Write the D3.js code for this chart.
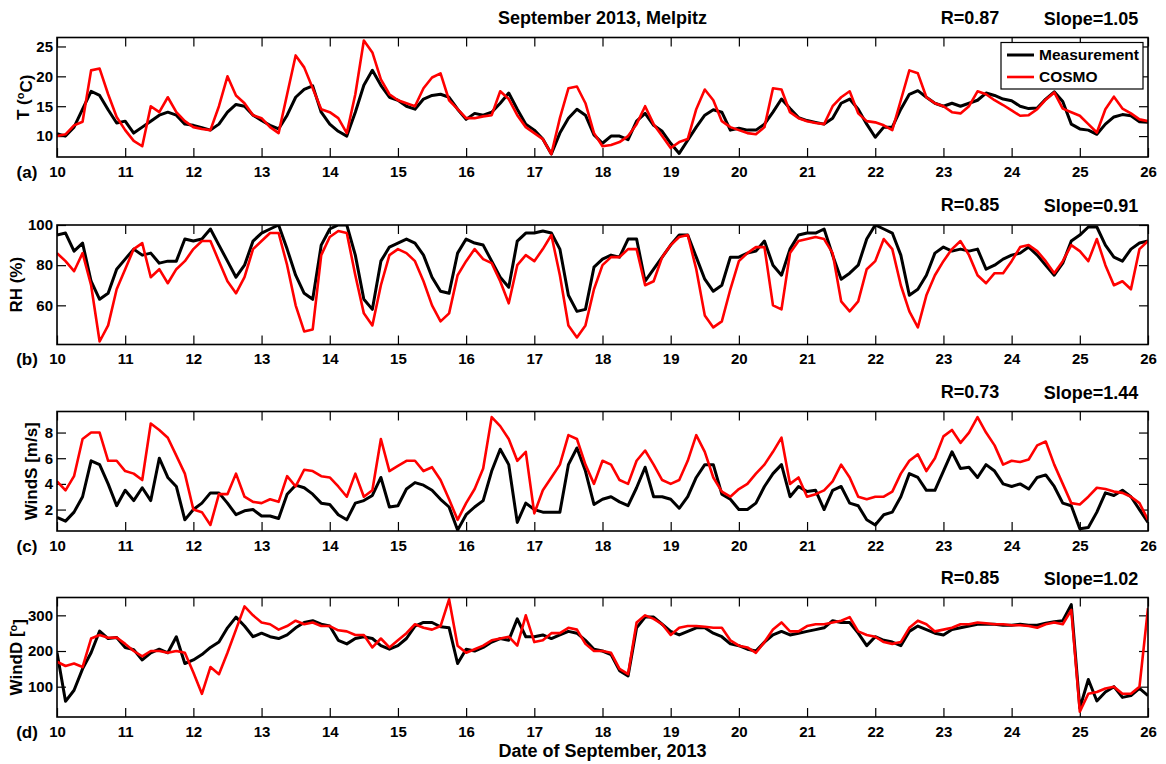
<!DOCTYPE html>
<html>
<head>
<meta charset="utf-8">
<script src="https://cdn.jsdelivr.net/npm/d3@7"></script>
<style>
  body { margin: 0; background: #fff; }
  text { font-family: Arial, "Liberation Sans", sans-serif; font-weight: bold; fill: #000; }
  .tick line { stroke: #000; stroke-width: 1.2; }
  .tick text { font-size: 15px; }
</style>
</head>
<body>
<div id="plot-container"></div>
<script>
// sampling grid (3-hourly) and day ticks
var days = d3.range(10, 26.001, 0.125);
var dayTicks = d3.range(10, 27);

// (a) temperature [deg C]
var tMeas = [
  10.4, 10.0, 11.5, 14.5, 17.5, 16.8, 14.4, 12.2,
  12.5, 10.5, 11.5, 12.5, 13.5, 14.0, 13.5, 12.0,
  11.8, 11.4, 11.0, 12.0, 14.0, 15.3, 15.0, 13.5,
  12.6, 11.8, 11.2, 13.5, 16.5, 17.8, 18.4, 14.0,
  12.0, 10.8, 10.0, 14.0, 18.5, 21.0, 18.5, 16.5,
  16.0, 15.0, 14.5, 16.2, 16.8, 17.0, 16.5, 14.5,
  12.8, 13.8, 13.5, 14.0, 15.5, 17.2, 14.5, 12.0,
  11.0, 9.5, 7.0, 10.5, 13.0, 14.5, 13.5, 10.2,
  8.8, 10.0, 10.0, 9.4, 12.5, 13.8, 11.8, 10.8,
  8.8, 7.1, 9.3, 11.5, 13.5, 14.4, 14.0, 11.0,
  11.3, 11.0, 11.0, 12.0, 14.0, 16.2, 14.6, 13.1,
  12.6, 12.3, 12.0, 13.0, 15.5, 16.2, 14.5, 12.0,
  9.8, 11.5, 11.5, 14.5, 17.0, 17.6, 16.5, 15.5,
  15.0, 15.5, 15.0, 15.5, 16.0, 17.2, 16.8, 16.2,
  15.9, 15.0, 14.6, 14.7, 16.2, 17.4, 15.8, 12.0,
  11.2, 11.0, 10.3, 12.0, 13.2, 13.6, 13.4, 12.4,
  12.3
];
var tCosmo = [
  10.0, 10.3, 11.8, 12.4, 21.0, 21.3, 17.0, 13.2,
  11.0, 9.2, 8.3, 15.0, 14.0, 16.5, 14.0, 12.5,
  11.5, 11.2, 11.0, 15.0, 20.0, 16.8, 15.5, 13.5,
  13.0, 11.5, 10.5, 17.0, 23.5, 21.5, 18.0, 14.5,
  14.0, 13.0, 10.5, 17.0, 26.0, 24.0, 19.5, 17.0,
  16.0, 15.5, 15.0, 18.0, 19.8, 20.5, 16.0, 14.5,
  13.0, 13.0, 13.3, 13.5, 17.5, 16.2, 13.5, 11.5,
  10.5, 9.5, 7.0, 13.0, 18.0, 18.3, 15.5, 10.5,
  8.3, 8.5, 9.0, 10.0, 12.0, 15.0, 12.0, 10.0,
  8.0, 9.0, 9.5, 14.5, 17.8, 16.0, 12.5, 11.5,
  11.0, 10.5, 10.3, 11.5, 18.0, 17.8, 14.0, 13.0,
  12.5, 12.2, 12.0, 15.0, 16.5, 17.5, 13.8, 12.5,
  12.3, 11.8, 11.0, 16.0, 21.0, 20.5, 16.5, 15.5,
  15.0, 14.0, 13.8, 15.0, 17.5, 17.0, 16.0, 15.2,
  14.3, 13.4, 13.5, 14.5, 16.1, 17.3, 14.6, 14.0,
  13.4, 12.0, 10.6, 14.5, 16.6, 14.6, 13.8, 12.8,
  12.5
];

// (b) relative humidity [%]
var rhMeas = [
  95, 96, 87, 91, 72, 63, 66, 78,
  83, 88, 85, 86, 81, 82, 82, 93,
  92, 93, 98, 90, 82, 74, 80, 92,
  96, 98, 100, 88, 75, 66, 63, 90,
  98, 100, 100, 85, 63, 58, 82, 89,
  91, 93, 91, 85, 74, 67, 66, 86,
  93, 91, 90, 82, 74, 69, 92, 96,
  96, 97, 96, 88, 65, 57, 58, 79,
  83, 85, 84, 93, 93, 72, 78, 84,
  90, 95, 95, 84, 73, 67, 70, 84,
  84, 86, 87, 92, 80, 75, 88, 95,
  96, 96, 98, 85, 73, 76, 80, 93,
  100, 98, 96, 85, 65, 68, 75, 86,
  89, 87, 88, 87, 88, 78, 80, 83,
  85, 86, 89, 85, 80, 75, 81, 92,
  95, 99, 99, 90, 84, 82, 88, 91,
  92
];
var rhCosmo = [
  86, 82, 77, 86, 70, 42, 50, 68,
  78, 88, 91, 74, 78, 71, 78, 82,
  88, 92, 92, 82, 72, 66, 74, 88,
  92, 96, 96, 80, 60, 47, 48, 85,
  94, 97, 96, 75, 56, 50, 70, 85,
  88, 86, 82, 72, 60, 52, 56, 75,
  82, 88, 83, 81, 72, 61, 80, 85,
  82, 88, 95, 75, 50, 44, 50, 68,
  80, 84, 84, 88, 88, 70, 72, 84,
  90, 94, 95, 78, 55, 49, 52, 68,
  82, 86, 89, 89, 60, 58, 86, 92,
  93, 94, 93, 86, 62, 57, 62, 78,
  82, 93, 88, 70, 57, 49, 65, 75,
  82, 88, 92, 85, 75, 71, 76, 76,
  82, 89, 90, 87, 82, 76, 82, 90,
  87, 82, 93, 80, 70, 72, 68, 88,
  92
];

// (c) wind speed [m/s]
var wsMeas = [
  1.4, 1.1, 1.8, 3.0, 5.8, 5.5, 4.0, 2.3,
  3.5, 2.7, 3.7, 2.7, 6.0, 4.5, 3.8, 1.2,
  2.0, 2.5, 3.3, 3.3, 2.5, 1.6, 1.9, 2.0,
  1.5, 1.5, 1.3, 3.2, 3.9, 3.7, 3.2, 2.5,
  2.4, 1.6, 1.2, 2.5, 2.7, 3.1, 4.5, 2.2,
  2.3, 3.6, 4.1, 3.9, 3.5, 2.8, 2.2, 0.4,
  1.6, 2.2, 2.7, 5.0, 6.7, 5.5, 1.0, 2.5,
  2.0, 1.8, 1.8, 1.8, 5.5, 6.8, 5.0, 2.4,
  2.8, 3.0, 2.6, 2.3, 3.7, 5.3, 3.0, 3.0,
  2.8, 2.1, 3.0, 4.5, 5.5, 5.5, 3.2, 2.8,
  2.0, 2.0, 2.5, 3.8, 4.8, 5.5, 3.0, 3.8,
  3.4, 3.5, 2.0, 3.5, 3.8, 2.5, 2.3, 1.2,
  0.8, 1.6, 1.8, 3.0, 4.8, 4.5, 3.5, 3.5,
  5.0, 6.5, 5.2, 5.3, 4.5, 5.5, 5.0, 4.0,
  3.8, 4.0, 3.6, 4.5, 4.7, 3.8, 2.5, 2.3,
  0.5, 0.6, 1.8, 3.3, 3.1, 3.5, 3.0, 2.0,
  1.0
];
var wsCosmo = [
  4.2, 3.5, 4.6, 7.5, 8.0, 8.0, 5.8, 5.8,
  5.0, 4.8, 4.3, 8.7, 8.2, 7.6, 6.2, 4.8,
  2.0, 1.8, 0.8, 3.2, 3.2, 4.8, 3.0, 2.6,
  2.5, 2.8, 2.6, 4.6, 3.8, 5.1, 5.0, 4.6,
  4.5, 3.8, 3.0, 4.8, 3.0, 3.5, 7.5, 5.0,
  5.4, 5.8, 5.8, 5.0, 5.3, 4.3, 2.8, 1.2,
  2.5, 3.6, 5.2, 9.2, 8.5, 7.5, 5.8, 6.5,
  1.7, 3.5, 4.5, 5.5, 7.8, 7.5, 5.5, 4.0,
  5.8, 5.5, 4.3, 4.0, 5.8, 6.6, 5.5, 4.3,
  4.0, 4.3, 5.8, 7.8, 6.5, 4.5, 3.4, 3.0,
  3.6, 4.0, 4.8, 5.5, 6.5, 7.6, 4.0, 4.5,
  3.0, 3.2, 3.5, 4.2, 5.5, 4.5, 3.0, 2.8,
  3.0, 3.0, 3.4, 4.8, 5.8, 6.3, 5.0, 6.0,
  7.7, 8.2, 7.2, 8.0, 9.2, 8.0, 7.0, 5.5,
  5.8, 5.7, 5.9, 7.0, 7.3, 5.5, 4.0, 2.5,
  2.4, 3.0, 3.7, 3.6, 3.4, 3.3, 3.0, 2.5,
  1.2
];

// (d) wind direction [deg]
var wdMeas = [
  196, 59, 90, 150, 195, 256, 235, 238,
  210, 204, 175, 195, 205, 195, 240, 165,
  175, 190, 210, 225, 265, 295, 270, 240,
  250, 240, 235, 245, 265, 280, 285, 275,
  270, 230, 220, 235, 240, 235, 215, 205,
  215, 235, 270, 280, 280, 268, 265, 165,
  205, 200, 210, 225, 235, 230, 290, 240,
  240, 245, 235, 245, 255, 250, 230, 205,
  200, 190, 145, 130, 265, 295, 295, 275,
  255, 245, 255, 265, 265, 250, 240, 220,
  215, 205, 200, 225, 245, 255, 245, 250,
  255, 260, 265, 285, 280, 280, 250, 215,
  240, 230, 225, 215, 255, 270, 260, 250,
  245, 260, 265, 270, 275, 275, 275, 272,
  272, 275, 272, 272, 278, 282, 285, 330,
  40, 120, 60, 85, 100, 70, 75, 95,
  75
];
var wdCosmo = [
  170, 158, 165, 155, 235, 245, 237, 238,
  220, 200, 185, 200, 200, 195, 200, 195,
  140, 80, 155, 135, 195, 260, 325, 300,
  280, 275, 260, 270, 285, 275, 280, 270,
  270, 258, 255, 245, 245, 210, 235, 210,
  230, 250, 275, 265, 260, 270, 345, 215,
  195, 205, 215, 230, 235, 240, 215, 300,
  225, 230, 250, 250, 265, 260, 220, 200,
  200, 195, 150, 135, 280, 300, 290, 275,
  245, 265, 270, 270, 268, 265, 265, 230,
  215, 210, 195, 225, 260, 280, 255, 255,
  270, 275, 275, 280, 285, 295, 255, 245,
  240, 225, 220, 225, 265, 285, 275, 255,
  260, 265, 275, 275, 280, 278, 275, 275,
  272, 272, 270, 265, 275, 280, 275, 315,
  30, 80, 85, 95, 100, 80, 80, 100,
  320
];

var panels = [
  {tag: '(a)', meas: tMeas, cosmo: tCosmo, domain: [6.5, 26.5], ticks: [10, 15, 20, 25], r: 'R=0.87', slope: 'Slope=1.05', label: ['T (', 'o', 'C)'], labelX: 23},
  {tag: '(b)', meas: rhMeas, cosmo: rhCosmo, domain: [40.5, 100], ticks: [60, 80, 100], r: 'R=0.85', slope: 'Slope=0.91', label: ['RH (%)'], labelX: 16},
  {tag: '(c)', meas: wsMeas, cosmo: wsCosmo, domain: [0.33, 9.64], ticks: [2, 4, 6, 8], r: 'R=0.73', slope: 'Slope=1.44', label: ['WindS [m/s]'], labelX: 31},
  {tag: '(d)', meas: wdMeas, cosmo: wdCosmo, domain: [15, 350], ticks: [100, 200, 300], r: 'R=0.85', slope: 'Slope=1.02', label: ['WindD [', 'o', ']'], labelX: 16}
];

// layout
var totalWidth = 1166, totalHeight = 764;
var margins = {left: 57, right: 1148, tickLen: 9};
var panelTops = [37.5, 225, 411.5, 597.5], panelHeight = 119.5;
var colors = {meas: '#000000', cosmo: '#ff0000'};

var x = d3.scaleLinear().domain([10, 26]).range([margins.left, margins.right]);

var svg = d3.select('#plot-container').append('svg')
  .attr('width', totalWidth).attr('height', totalHeight);

svg.append('text').attr('x', (margins.left + margins.right) / 2).attr('y', 18).attr('dy', '.35em')
  .attr('text-anchor', 'middle').style('font-size', '18px').text('September 2013, Melpitz');

panels.forEach(function(p, i) {
  var top = panelTops[i], bottom = top + panelHeight;
  var y = d3.scaleLinear().domain(p.domain).range([bottom, top]);
  var g = svg.append('g');

  g.append('clipPath').attr('id', 'clip' + i).append('rect')
    .attr('x', margins.left).attr('y', top).attr('width', margins.right - margins.left).attr('height', panelHeight);

  // ticks (inside, all four sides)
  g.append('g').attr('transform', 'translate(' + [0, bottom] + ')')
    .call(d3.axisBottom(x).tickValues(dayTicks).tickSize(-margins.tickLen).tickPadding(9).tickFormat(d3.format('d')))
    .call(function(a) { a.select('.domain').remove(); });
  g.append('g').attr('transform', 'translate(' + [0, top] + ')')
    .call(d3.axisTop(x).tickValues(dayTicks).tickSize(-margins.tickLen).tickFormat(''))
    .call(function(a) { a.select('.domain').remove(); });
  g.append('g').attr('transform', 'translate(' + [margins.left, 0] + ')')
    .call(d3.axisLeft(y).tickValues(p.ticks).tickSize(-margins.tickLen).tickPadding(4).tickFormat(d3.format('d')))
    .call(function(a) { a.select('.domain').remove(); });
  g.append('g').attr('transform', 'translate(' + [margins.right, 0] + ')')
    .call(d3.axisRight(y).tickValues(p.ticks).tickSize(-margins.tickLen).tickFormat(''))
    .call(function(a) { a.select('.domain').remove(); });

  // series
  var line = d3.line().x(function(d, j) { return x(days[j]); }).y(function(d) { return y(d); });
  var plot = g.append('g').attr('clip-path', 'url(#clip' + i + ')');
  plot.append('path').datum(p.meas).attr('d', line)
    .attr('fill', 'none').attr('stroke', colors.meas).attr('stroke-width', 3).attr('stroke-linejoin', 'round');
  plot.append('path').datum(p.cosmo).attr('d', line)
    .attr('fill', 'none').attr('stroke', colors.cosmo).attr('stroke-width', 2.6).attr('stroke-linejoin', 'round');

  // frame
  g.append('rect').attr('x', margins.left).attr('y', top).attr('width', margins.right - margins.left).attr('height', panelHeight)
    .attr('fill', 'none').attr('stroke', '#000').attr('stroke-width', 1.6);

  // texts
  g.append('text').attr('x', 27).attr('y', bottom + 15).attr('dy', '.35em').attr('text-anchor', 'middle')
    .style('font-size', '17px').text(p.tag);
  g.append('text').attr('x', 970).attr('y', top - 20).attr('dy', '.35em').attr('text-anchor', 'middle')
    .style('font-size', '18px').text(p.r);
  g.append('text').attr('x', 1091).attr('y', top - 19).attr('dy', '.35em').attr('text-anchor', 'middle')
    .style('font-size', '18px').text(p.slope);

  var yl = g.append('text').attr('text-anchor', 'middle').style('font-size', '17px')
    .attr('transform', 'translate(' + [p.labelX, (top + bottom) / 2] + ') rotate(-90)').attr('dy', '.35em');
  p.label.forEach(function(s, k) {
    var t = yl.append('tspan').text(s);
    if (k === 1) t.attr('dy', '-0.45em').style('font-size', '11px');
    if (k === 2) t.attr('dy', '0.45em');
  });
});

// legend in panel (a)
var legend = svg.append('g').attr('transform', 'translate(' + [1001, 42.5] + ')');
legend.append('rect').attr('width', 142).attr('height', 46.5).attr('fill', '#fff').attr('stroke', '#000').attr('stroke-width', 1.2);
[['Measurement', colors.meas, 12.5], ['COSMO', colors.cosmo, 34.5]].forEach(function(d) {
  legend.append('line').attr('x1', 6).attr('x2', 33).attr('y1', d[2]).attr('y2', d[2])
    .attr('stroke', d[1]).attr('stroke-width', d[1] === colors.meas ? 3 : 2.6);
  legend.append('text').attr('x', 38).attr('y', d[2]).attr('dy', '.35em').style('font-size', '15.5px').text(d[0]);
});

svg.append('text').attr('x', (margins.left + margins.right) / 2).attr('y', 751).attr('dy', '.35em')
  .attr('text-anchor', 'middle').style('font-size', '18px').text('Date of September, 2013');
</script>
</body>
</html>
